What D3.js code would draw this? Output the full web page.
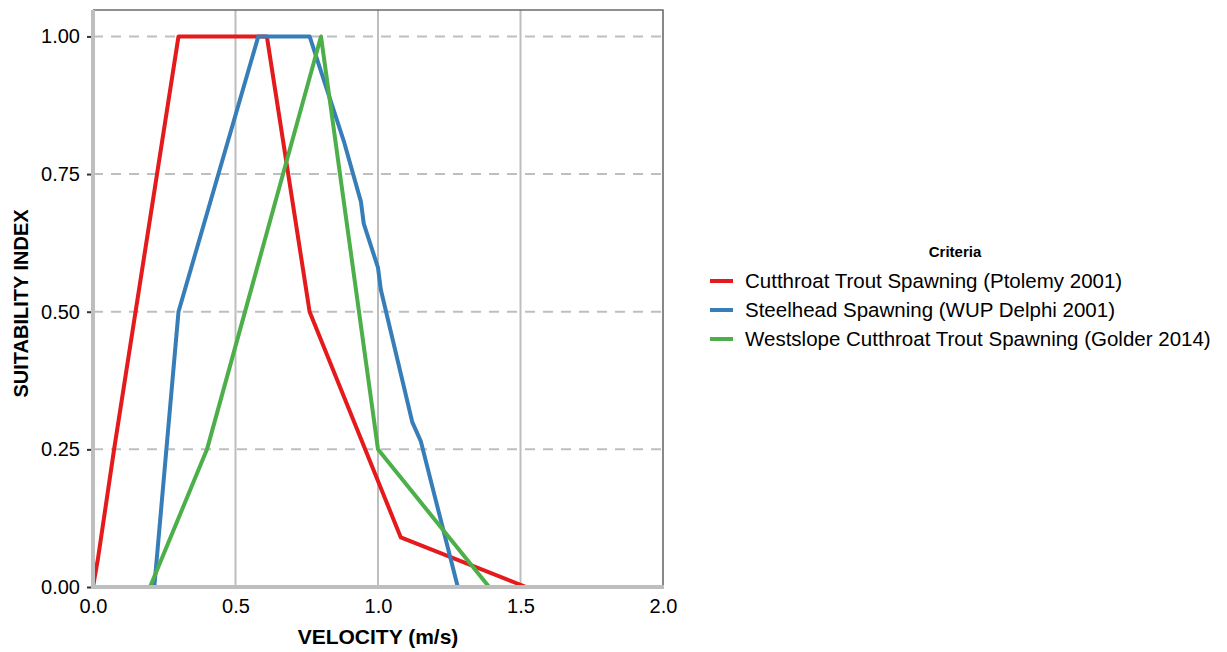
<!DOCTYPE html>
<html><head><meta charset="utf-8">
<script src="https://cdn.jsdelivr.net/npm/d3@7"></script>
<style>body{margin:0;background:#fff;} text{font-family:"Liberation Sans",Arial,sans-serif;}</style>
</head><body><svg id="c" width="1227" height="652"></svg>
<script>
const seriesNames = ["Cutthroat Trout Spawning (Ptolemy 2001)","Steelhead Spawning (WUP Delphi 2001)","Westslope Cutthroat Trout Spawning (Golder 2014)"];
const seriesColors = ["#E41A1C","#377EB8","#4DAF4A"];
const cutthroatV = [0, 0.017, 0.074, 0.30, 0.61, 0.76, 1.08, 1.52];
const cutthroatS = [0, 0.05, 0.25, 1.0, 1.0, 0.5, 0.09, 0];
const steelheadV = [0.215, 0.30, 0.58, 0.76, 0.88, 0.94, 0.95, 1.0, 1.01, 1.12, 1.15, 1.28];
const steelheadS = [0, 0.5, 1.0, 1.0, 0.81, 0.70, 0.66, 0.58, 0.54, 0.30, 0.265, 0];
const westslopeV = [0.20, 0.40, 0.80, 1.0, 1.39];
const westslopeS = [0, 0.25, 1.0, 0.25, 0];
const xTicks = [0, 0.5, 1.0, 1.5, 2.0];
const yTicks = [0, 0.25, 0.5, 0.75, 1.0];

const series = [[cutthroatV,cutthroatS],[steelheadV,steelheadS],[westslopeV,westslopeS]].map((d,i)=>({
  name: seriesNames[i], color: seriesColors[i], pts: d[0].map((v,j)=>[v,d[1][j]])
}));

const svg = d3.select("#c");
const L=93, R=663, T=10, B=587;
const x = d3.scaleLinear().domain([0,2]).range([L,R]);
const y = d3.scaleLinear().domain([0,1.048]).range([B,T]);

// grid
svg.append("g").selectAll("line").data(xTicks.filter(d=>d>0&&d<2)).join("line")
  .attr("x1",d=>x(d)).attr("x2",d=>x(d)).attr("y1",T).attr("y2",B)
  .attr("stroke","#BEBEBE").attr("stroke-width",2);
svg.append("g").selectAll("line").data(yTicks.filter(d=>d>0)).join("line")
  .attr("x1",L).attr("x2",R).attr("y1",d=>y(d)).attr("y2",d=>y(d))
  .attr("stroke","#BEBEBE").attr("stroke-width",2).attr("stroke-dasharray","10,8");

// series
const line = d3.line().x(d=>x(d[0])).y(d=>y(d[1]));
svg.append("g").selectAll("path").data(series).join("path")
  .attr("d",d=>line(d.pts)).attr("fill","none").attr("stroke",d=>d.color)
  .attr("stroke-width",4).attr("stroke-linejoin","round").attr("stroke-linecap","butt");

// border top/right
svg.append("path").attr("d",`M${L},${T}H${R}V${B}`).attr("fill","none").attr("stroke","#6b6b6b").attr("stroke-width",1.6);

// axes
const xAxis = d3.axisBottom(x).tickValues(xTicks).tickFormat(d3.format(".1f")).tickSize(0).tickPadding(12);
const gx = svg.append("g").attr("transform",`translate(0,${B})`).call(xAxis);
gx.select(".domain").remove();
gx.selectAll("text").attr("font-size",20).attr("fill","#000").attr("font-family","Liberation Sans, Arial, sans-serif");

const yAxis = d3.axisLeft(y).tickValues(yTicks).tickFormat(d3.format(".2f")).tickSize(5).tickPadding(7);
const gy = svg.append("g").attr("transform",`translate(${L-1},0)`).call(yAxis);
gy.select(".domain").remove();
gy.selectAll(".tick line").attr("stroke","#333").attr("stroke-width",2);
gy.selectAll("text").attr("font-size",20).attr("fill","#000").attr("font-family","Liberation Sans, Arial, sans-serif");

// axis lines
svg.append("line").attr("x1",L).attr("x2",L).attr("y1",T).attr("y2",B+2).attr("stroke","#BEBEBE").attr("stroke-width",4);
svg.append("line").attr("x1",L-2).attr("x2",R+1).attr("y1",B).attr("y2",B).attr("stroke","#BEBEBE").attr("stroke-width",4);

// titles
svg.append("text").attr("x",(L+R)/2).attr("y",644).attr("text-anchor","middle")
  .attr("font-size",21).attr("font-weight","bold").text("VELOCITY (m/s)");
svg.append("text").attr("transform",`translate(28,${(T+B)/2+5}) rotate(-90)`).attr("text-anchor","middle")
  .attr("font-size",20).attr("font-weight","bold").text("SUITABILITY INDEX");

// legend
const lg = svg.append("g");
lg.append("text").attr("x",955).attr("y",257).attr("text-anchor","middle").attr("font-size",15).attr("font-weight","bold").text("Criteria");
const items = lg.selectAll("g.item").data(series).join("g").attr("class","item")
  .attr("transform",(d,i)=>`translate(0,${281+i*29})`);
items.append("line").attr("x1",710).attr("x2",733).attr("stroke",d=>d.color).attr("stroke-width",4);
items.append("text").attr("x",745).attr("y",7).attr("font-size",20.5).text(d=>d.name);
</script></body></html>
